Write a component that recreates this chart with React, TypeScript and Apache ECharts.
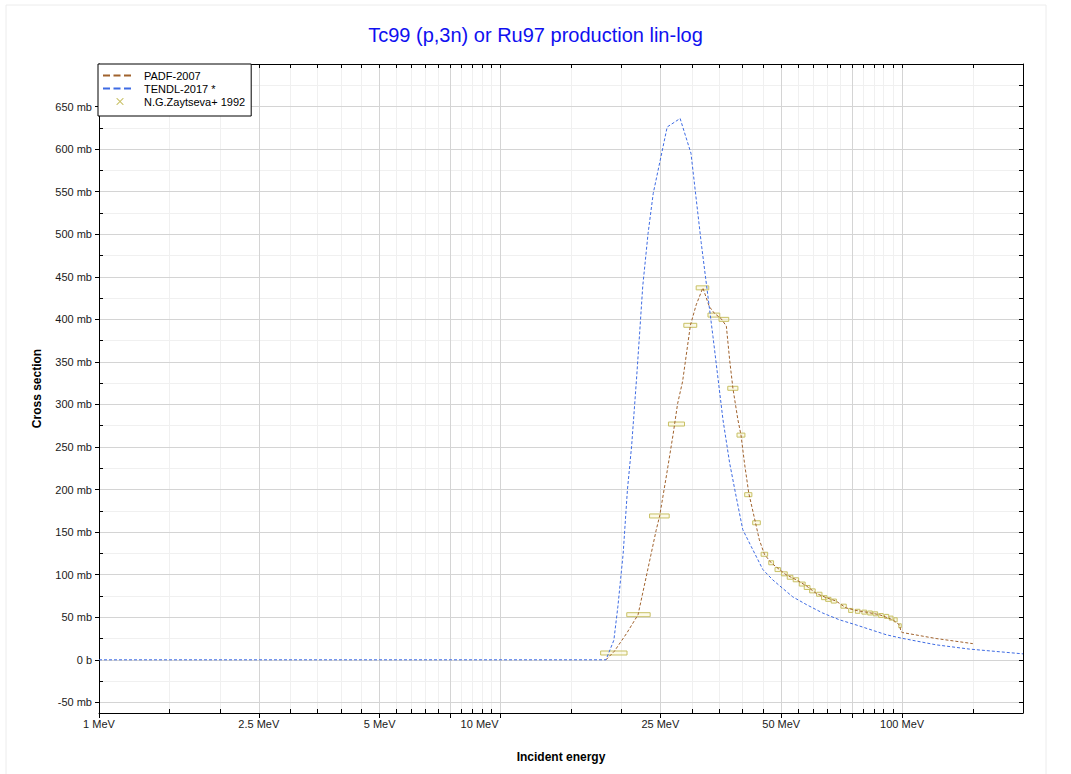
import React, { useEffect, useRef } from 'react';
import * as echarts from 'echarts';

const TITLE = 'Tc99 (p,3n) or Ru97 production lin-log';
const X_NAME = 'Incident energy';
const Y_NAME = 'Cross section';

// x ticks (MeV, log axis)
const X_MAJOR_TICKS = [1, 2.5, 5, 7.5, 10, 25, 50, 75, 100];
const X_LABEL_TICKS = [1, 2.5, 5, 10, 25, 50, 100];
const X_MINOR_TICKS = [1, 1.5, 2, 2.5, 3, 3.5, 4, 4.5, 5, 5.5, 6, 6.5, 7, 7.5, 8, 8.5, 9, 9.5, 10,
  15, 20, 25, 30, 35, 40, 45, 50, 55, 60, 65, 70, 75, 80, 85, 90, 95, 100, 150, 200];
// y ticks (mb)
const Y_MAJOR_TICKS = [-50, 0, 50, 100, 150, 200, 250, 300, 350, 400, 450, 500, 550, 600, 650];
const Y_MINOR_TICKS = [-50, -25, 0, 25, 50, 75, 100, 125, 150, 175, 200, 225, 250, 275, 300, 325, 350,
  375, 400, 425, 450, 475, 500, 525, 550, 575, 600, 625, 650, 675, 700];

// PADF-2007
const PADF_E = [18.3, 19.2, 20.6, 22.0, 22.8, 23.7, 24.4, 24.9, 25.9, 26.9, 27.6, 28.4, 29.7, 30.7, 31.9,
  33.1, 34.1, 35.4, 36.5, 37.2, 37.9, 39.0, 39.7, 40.5, 41.5, 42.9, 44.1, 45.4, 47.2, 49.5, 51.4, 54.5,
  57.7, 61.1, 64.7, 68.5, 72.5, 76.8, 81.4, 87.8, 94.8, 98.5, 99.4, 100.3, 121.5, 150];
const PADF_V = [0, 10, 31, 53, 87, 124, 152, 169, 217, 265, 301, 327, 393, 417, 437,
  415, 407, 401, 392, 352, 319, 282, 264, 231, 196, 166, 141, 124, 114, 106, 100, 94,
  87, 78, 73, 69, 61, 58, 56, 53, 47, 41, 33, 32, 25, 19];

// TENDL-2017
const TENDL_E = [1, 18.3, 19.15, 19.6, 20.2, 20.7, 21.2, 21.8, 22.2, 22.6, 23.3, 24, 26, 28, 29.8,
  31.6, 33.8, 35.8, 37.2, 38.6, 40.1, 42.1, 45, 47.6, 50.4, 53.4, 57.7, 63.4, 69.8, 76.8, 91.2, 99.4,
  121.5, 147, 200];
const TENDL_V = [0, 0, 23, 63, 125, 200, 251, 329, 384, 439, 501, 548, 626, 636, 595,
  490, 380, 282, 231, 192, 153, 133, 106, 94, 84, 74, 65, 55, 47, 41, 29.5, 25.5,
  17.6, 12.6, 7];

// N.G.Zaytseva+ 1992 (energy, cross section, energy half-width)
const EXP_E = [19.2, 22.1, 24.9, 27.45, 29.7, 31.85, 34.0, 36.0, 37.9, 39.7, 41.4, 43.4, 45.4, 47.2,
  49.0, 50.9, 52.6, 54.4, 56.4, 58.0, 59.8, 62.2, 64.0, 65.5, 67.6, 71.5, 74.5, 77.5, 80.5, 83.2, 85.8,
  88.6, 91.5, 93.9, 96.3, 98.8];
const EXP_V = [8, 53, 169, 277, 393, 437, 405, 400, 319, 264, 194, 161, 124, 114,
  106, 101, 97, 94, 89, 85, 81, 77, 73, 71, 69, 63, 58, 57, 56, 55, 54,
  52, 51, 49, 47, 40];
const EXP_DE = [1.45, 1.48, 1.4, 1.26, 1.1, 1.15, 1.15, 1.0, 1.1, 0.9, 0.85, 0.95, 0.85, 0.65,
  0.75, 0.85, 0.85, 0.85, 0.95, 0.95, 0.95, 0.95, 1.0, 1.0, 1.0, 1.1, 0.9, 1.0, 1.1, 1.1, 1.1,
  1.15, 1.1, 1.0, 0.9, 0.7];

const BROWN = '#a0622d';
const BLUE = '#3e6be3';
const OLIVE = '#c8c064';
const FONT = 'Arial, "Liberation Sans", sans-serif';

const DASH_ICON = 'path://M0,0h0.01v0.01h-0.01z M27.99,12.99h0.01v0.01h-0.01z M0,5.5h7v2h-7z M10.5,5.5h7v2h-7z M21,5.5h7v2h-7z';
const X_ICON = 'path://M0,0h0.01v0.01h-0.01z M27.99,12.99h0.01v0.01h-0.01z M13.5,3L14.2,3L20.5,9.3L20.5,10L19.8,10L13.5,3.7Z M20.5,3L20.5,3.7L14.2,10L13.5,10L13.5,9.3L19.8,3Z';

export default function App() {
  const ref = useRef<HTMLDivElement>(null);
  useEffect(() => {
    if (!ref.current) return;
    const chart = echarts.init(ref.current, undefined, { renderer: 'svg' });
    const xCommon = { type: 'log', logBase: 10, min: 1, max: 200, gridIndex: 0 };
    const yCommon = { type: 'value', min: -62.5, max: 700, gridIndex: 0 };
    const labelText = { color: '#1a1a1a', fontSize: 11, fontFamily: FONT };
    const option: any = {
      animation: false,
      backgroundColor: '#ffffff',
      title: {
        text: TITLE, left: 'center', top: 25, padding: 0,
        textStyle: { color: '#1010f0', fontSize: 20, fontWeight: 'normal', fontFamily: FONT },
      },
      legend: {
        orient: 'vertical', left: 98, top: 64,
        backgroundColor: '#ffffff', borderColor: '#000', borderWidth: 1,
        padding: [5, 6, 8, 5], itemGap: 0, itemWidth: 28, itemHeight: 13,
        itemStyle: { borderWidth: 0 },
        textStyle: { fontSize: 11, color: '#000', fontFamily: FONT, padding: [0, 0, 0, 8] },
        data: [
          { name: 'PADF-2007', icon: DASH_ICON },
          { name: 'TENDL-2017 *', icon: DASH_ICON },
          { name: 'N.G.Zaytseva+ 1992', icon: X_ICON, itemStyle: { color: OLIVE } },
        ],
      },
      grid: { left: 99, top: 64, width: 924, height: 649 },
      xAxis: [
        {
          ...xCommon, position: 'bottom', z: 1,
          name: X_NAME, nameLocation: 'middle', nameGap: 38,
          nameTextStyle: { fontWeight: 'bold', fontSize: 12, color: '#000', fontFamily: FONT },
          axisLine: { show: true, onZero: false, lineStyle: { color: '#000', width: 1 } },
          axisTick: { show: true, inside: false, length: 5, customValues: X_MAJOR_TICKS, lineStyle: { color: '#000' } },
          axisLabel: {
            ...labelText, margin: 5, customValues: X_LABEL_TICKS,
            formatter: (v: number) => (Math.abs(v - 10) < 1e-6 ? `{s|${v} MeV}` : `${v} MeV`),
            rich: { s: { ...labelText, padding: [0, 42, 0, 0] } },
          },
          splitLine: { show: true, lineStyle: { color: '#d4d4d4', width: 1 } },
          minorTick: { show: false }, minorSplitLine: { show: false },
        },
        {
          ...xCommon, position: 'bottom', z: 0,
          axisLine: { show: false, onZero: false },
          axisTick: { show: true, inside: true, length: 4, customValues: X_MINOR_TICKS, lineStyle: { color: '#000' } },
          axisLabel: { show: false },
          splitLine: { show: true, lineStyle: { color: '#f0f0f0', width: 1 } },
        },
        {
          ...xCommon, position: 'top', z: 1,
          axisLine: { show: true, onZero: false, lineStyle: { color: '#000', width: 1 } },
          axisTick: { show: true, inside: true, length: 4, customValues: X_MINOR_TICKS, lineStyle: { color: '#000' } },
          axisLabel: { show: false },
          splitLine: { show: false },
        },
      ],
      yAxis: [
        {
          ...yCommon, position: 'left', z: 1,
          name: Y_NAME, nameLocation: 'middle', nameGap: 56, nameRotate: 90,
          nameTextStyle: { fontWeight: 'bold', fontSize: 12, color: '#000', fontFamily: FONT },
          axisLine: { show: true, onZero: false, lineStyle: { color: '#000', width: 1 } },
          axisTick: { show: true, inside: false, length: 4, customValues: Y_MAJOR_TICKS, lineStyle: { color: '#000' } },
          axisLabel: {
            ...labelText, margin: 7, customValues: Y_MAJOR_TICKS,
            formatter: (v: number) => (v === 0 ? '0 b' : `${v} mb`),
          },
          splitLine: { show: true, lineStyle: { color: '#d4d4d4', width: 1 } },
        },
        {
          ...yCommon, position: 'left', z: 0,
          axisLine: { show: false, onZero: false },
          axisTick: { show: true, inside: true, length: 4, customValues: Y_MINOR_TICKS, lineStyle: { color: '#000' } },
          axisLabel: { show: false },
          splitLine: { show: true, lineStyle: { color: '#f0f0f0', width: 1 } },
        },
        {
          ...yCommon, position: 'right', z: 1,
          axisLine: { show: true, onZero: false, lineStyle: { color: '#000', width: 1 } },
          axisTick: { show: true, inside: true, length: 4, customValues: Y_MINOR_TICKS, lineStyle: { color: '#000' } },
          axisLabel: { show: false },
          splitLine: { show: false },
        },
      ],
      series: [
        {
          name: 'PADF-2007', type: 'line', xAxisIndex: 0, yAxisIndex: 0, z: 4,
          data: PADF_E.map((e, i) => [e, PADF_V[i]]),
          symbol: 'none', showSymbol: false,
          lineStyle: { color: BROWN, width: 1, type: [3, 2] },
          itemStyle: { color: BROWN },
        },
        {
          name: 'TENDL-2017 *', type: 'line', xAxisIndex: 0, yAxisIndex: 0, z: 4,
          data: TENDL_E.map((e, i) => [e, TENDL_V[i]]),
          symbol: 'none', showSymbol: false,
          lineStyle: { color: BLUE, width: 1, type: [3, 2] },
          itemStyle: { color: BLUE },
        },
        {
          name: 'N.G.Zaytseva+ 1992', type: 'custom', xAxisIndex: 0, yAxisIndex: 0, z: 3,
          data: EXP_E.map((e, i) => [e, EXP_V[i], EXP_DE[i]]),
          encode: { x: 0, y: 1 },
          itemStyle: { color: OLIVE },
          renderItem: (params: any, api: any) => {
            const e = api.value(0);
            const v = api.value(1);
            const de = api.value(2);
            const p1 = api.coord([e - de, v]);
            const p2 = api.coord([e + de, v]);
            return {
              type: 'rect',
              shape: { x: p1[0], y: p1[1] - 2, width: p2[0] - p1[0], height: 4 },
              style: { fill: 'rgba(245,242,190,0.35)', stroke: OLIVE, lineWidth: 1 },
            };
          },
        },
      ],
      graphic: [
        {
          type: 'rect', silent: true, z: -10,
          shape: { x: 6, y: 5, width: 1040, height: 800 },
          style: { fill: 'none', stroke: '#ececec', lineWidth: 1 },
        },
      ],
    };
    chart.setOption(option);
    return () => chart.dispose();
  }, []);
  return <div ref={ref} style={{ position: 'absolute', left: 0, top: 0, width: 1071, height: 774 }} />;
}
